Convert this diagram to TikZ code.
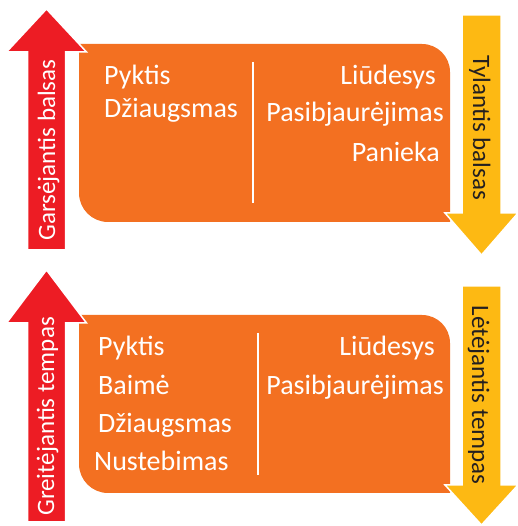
\documentclass[tikz,border=0pt]{standalone}
\usepackage{fontspec}
\setmainfont{Carlito}
\definecolor{boxorange}{HTML}{F37021}
\definecolor{upred}{HTML}{ED1C24}
\definecolor{downyellow}{HTML}{FDB913}
\definecolor{darktext}{HTML}{231F20}
\tikzset{
    emobox/.style={fill=boxorange},
    uparrow/.style={fill=upred, draw=white, line width=1.5pt},
    downarrow/.style={fill=downyellow, draw=white, line width=1.5pt},
    emotion/.style={inner sep=0pt, text=white, font=\fontsize{28}{33}\selectfont},
    uplabel/.style={inner sep=0pt, text=white, rotate=90, anchor=base, font=\fontsize{25}{30}\selectfont},
    downlabel/.style={inner sep=0pt, text=darktext, rotate=-90, anchor=base, font=\fontsize{25}{30}\selectfont},
    divider/.style={white, line width=2pt}
}

\begin{document}
\begin{tikzpicture}[x=1pt, y=1pt]
    \useasboundingbox (0,0) rectangle (517,526);

    % Upper panel (balsas)
    \fill[emobox] (79,482) -- (422,482) arc[start angle=90, end angle=0, radius=28]
        -- (450,304) -- (108,304) arc[start angle=270, end angle=180, radius=29] -- cycle;
    \draw[divider] (253,464) -- (253,323);

    % Upper left column
    \node[emotion, anchor=base west] (pyktisA) at (104,441) {Pyktis};
    \node[emotion, anchor=base west] (dziaugA) at (104,408) {Džiaugsmas};

    % Upper right column
    \node[emotion, anchor=base east] (liudA) at (436,441) {Liūdesys};
    \node[emotion, anchor=base east] (pasibA) at (444,404) {Pasibjaurėjimas};
    \node[emotion, anchor=base east] (panieka) at (440,364) {Panieka};

    % Upper arrows
    \draw[uparrow] (27.5,276) -- (27.5,474) -- (6.5,474) -- (46.5,517) -- (86.5,474)
        -- (65.5,474) -- (65.5,276) -- cycle;
    \node[uplabel] (garsej) at (55,376) {Garsėjantis balsas};
    \draw[downarrow] (462,511) -- (501,511) -- (501,313) -- (518,313) -- (481.5,271)
        -- (445,313) -- (462,313) -- cycle;
    \node[downlabel] (tylant) at (473,398.5) {Tylantis balsas};

    % Lower panel (tempas)
    \fill[emobox] (79,211) -- (422,211) arc[start angle=90, end angle=0, radius=28]
        -- (450,33) -- (108,33) arc[start angle=270, end angle=180, radius=29] -- cycle;
    \draw[divider] (258,193) -- (258,51);

    % Lower left column
    \node[emotion, anchor=base west] (pyktisB) at (98,170) {Pyktis};
    \node[emotion, anchor=base west] (baime) at (98,131) {Baimė};
    \node[emotion, anchor=base west] (dziaugB) at (98,93) {Džiaugsmas};
    \node[emotion, anchor=base west] (nusteb) at (94,55) {Nustebimas};

    % Lower right column
    \node[emotion, anchor=base east] (liudB) at (435,170) {Liūdesys};
    \node[emotion, anchor=base east] (pasibB) at (444,131) {Pasibjaurėjimas};

    % Lower arrows
    \draw[uparrow] (27.5,4) -- (27.5,203) -- (6.5,203) -- (46.5,256) -- (86.5,203)
        -- (65.5,203) -- (65.5,4) -- cycle;
    \node[uplabel] (greitej) at (54,109.5) {Greitėjantis tempas};
    \draw[downarrow] (462,240) -- (501,240) -- (501,41) -- (518,41) -- (481.5,1)
        -- (445,41) -- (462,41) -- cycle;
    \node[downlabel] (letej) at (472,131) {Lėtėjantis tempas};
\end{tikzpicture}
\end{document}
